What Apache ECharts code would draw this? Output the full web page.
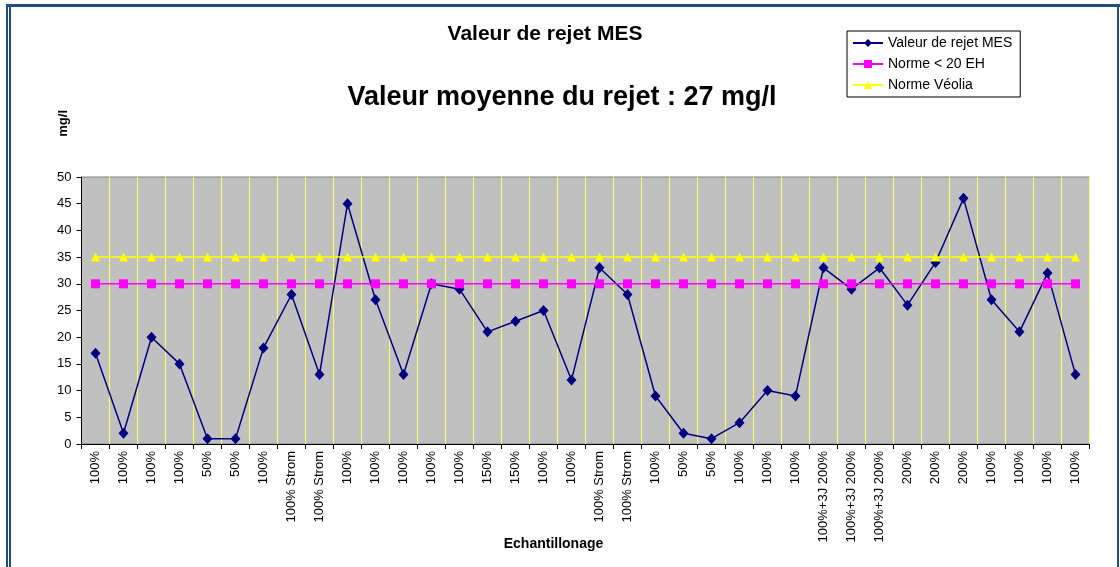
<!DOCTYPE html>
<html>
<head>
<meta charset="utf-8">
<script src="https://cdn.jsdelivr.net/npm/echarts@6/dist/echarts.min.js"></script>
<style>
    body { margin: 0; background: #fff; }
    #wrap { position: relative; width: 1120px; height: 567px; overflow: hidden; }
    #chart { position: absolute; left: 0; top: 0; width: 1120px; height: 567px; }
    .frame { position: absolute; background: #1f4e82; pointer-events: none; }
</style>
</head>
<body>
<div id="wrap">
    <div id="chart"></div>
    <!-- cadre bleu autour du graphique -->
    <div class="frame" style="left:6px; top:4px; width:1114px; height:3px;"></div>
    <div class="frame" style="left:6px; top:4px; width:2px; height:563px;"></div>
    <div class="frame" style="left:9px; top:4px; width:2px; height:563px;"></div>
    <div class="frame" style="left:1117px; top:4px; width:2px; height:563px;"></div>
</div>
<script>
// données
const categories = [
    '100%', '100%', '100%', '100%', '50%', '50%', '100%', '100% Strom', '100% Strom', '100%',
    '100%', '100%', '100%', '100%', '150%', '150%', '100%', '100%', '100% Strom', '100% Strom',
    '100%', '50%', '50%', '100%', '100%', '100%', '100%+3J 200%', '100%+3J 200%', '100%+3J 200%', '200%',
    '200%', '200%', '100%', '100%', '100%', '100%'
];
const valeurRejet = [
    17, 2, 20, 15, 1, 1, 18, 28, 13, 45,
    27, 13, 30, 29, 21, 23, 25, 12, 33, 28,
    9, 2, 1, 4, 10, 9, 33, 29, 33, 26,
    34, 46, 27, 21, 32, 13
];
const normeEH = [
    30, 30, 30, 30, 30, 30, 30, 30, 30, 30,
    30, 30, 30, 30, 30, 30, 30, 30, 30, 30,
    30, 30, 30, 30, 30, 30, 30, 30, 30, 30,
    30, 30, 30, 30, 30, 30
];
const normeVeolia = [
    35, 35, 35, 35, 35, 35, 35, 35, 35, 35,
    35, 35, 35, 35, 35, 35, 35, 35, 35, 35,
    35, 35, 35, 35, 35, 35, 35, 35, 35, 35,
    35, 35, 35, 35, 35, 35
];

const font = 'Liberation Sans, Arial, sans-serif';
const chart = echarts.init(document.getElementById('chart'));

const option = {
    animation: false,
    textStyle: { fontFamily: font },
    title: [
        {
            text: 'Valeur de rejet MES',
            left: 540, top: 19, textAlign: 'center',
            textStyle: { fontFamily: font, fontSize: 21, fontWeight: 'bold', color: '#000' }
        },
        {
            text: 'Valeur moyenne du rejet : 27 mg/l',
            left: 557, top: 79, textAlign: 'center',
            textStyle: { fontFamily: font, fontSize: 27, fontWeight: 'bold', color: '#000' }
        }
    ],
    legend: {
        orient: 'vertical',
        left: 847, top: 31,
        padding: [5, 8, 5, 5],
        itemWidth: 30, itemHeight: 10, itemGap: 7,
        backgroundColor: '#fff',
        borderColor: '#000', borderWidth: 1, borderRadius: 0,
        textStyle: { fontFamily: font, fontSize: 14, color: '#000' },
        data: ['Valeur de rejet MES', 'Norme < 20 EH', 'Norme Véolia']
    },
    grid: {
        left: 81.5, right: 30.5, top: 177, bottom: 123,
        show: true, backgroundColor: '#c0c0c0', borderColor: '#808080', borderWidth: 1
    },
    xAxis: {
        type: 'category',
        data: categories,
        name: 'Echantillonage',
        nameLocation: 'middle',
        nameGap: 93,
        nameMoveOverlap: false,
        nameTextStyle: { fontFamily: font, fontSize: 14, fontWeight: 'bold', color: '#000', padding: [0, 64, 0, 0] },
        axisLine: { lineStyle: { color: '#000', width: 1 } },
        axisTick: { show: true, interval: 0, length: 5, lineStyle: { color: '#000' } },
        axisLabel: { interval: 0, rotate: 90, margin: 7, fontFamily: font, fontSize: 13, color: '#000' },
        splitLine: { show: true, interval: 0, lineStyle: { color: '#ffff50', width: 1 } }
    },
    yAxis: {
        type: 'value',
        min: 0, max: 50, interval: 5,
        name: 'mg/l',
        nameLocation: 'end',
        nameRotate: 90,
        nameGap: 67,
        nameMoveOverlap: false,
        nameTextStyle: { fontFamily: font, fontSize: 13, fontWeight: 'bold', color: '#000', align: 'right', verticalAlign: 'bottom', padding: [0, 0, 12, 0] },
        axisLine: { show: true, lineStyle: { color: '#000', width: 1 } },
        axisTick: { show: true, length: 5, lineStyle: { color: '#000' } },
        axisLabel: { margin: 10, fontFamily: font, fontSize: 13, color: '#000' },
        splitLine: { show: false }
    },
    series: [
        {
            name: 'Valeur de rejet MES',
            type: 'line',
            data: valeurRejet,
            symbol: 'diamond', symbolSize: [10, 11],
            itemStyle: { color: '#000080' },
            lineStyle: { color: '#000080', width: 1.5 }
        },
        {
            name: 'Norme < 20 EH',
            type: 'line',
            data: normeEH,
            symbol: 'rect', symbolSize: 9,
            itemStyle: { color: '#ff00ff' },
            lineStyle: { color: '#ff00ff', width: 1.5 }
        },
        {
            name: 'Norme Véolia',
            type: 'line',
            data: normeVeolia,
            symbol: 'triangle', symbolSize: 9,
            itemStyle: { color: '#ffff00' },
            lineStyle: { color: '#ffff00', width: 1.5 }
        }
    ]
};

chart.setOption(option);
</script>
</body>
</html>
